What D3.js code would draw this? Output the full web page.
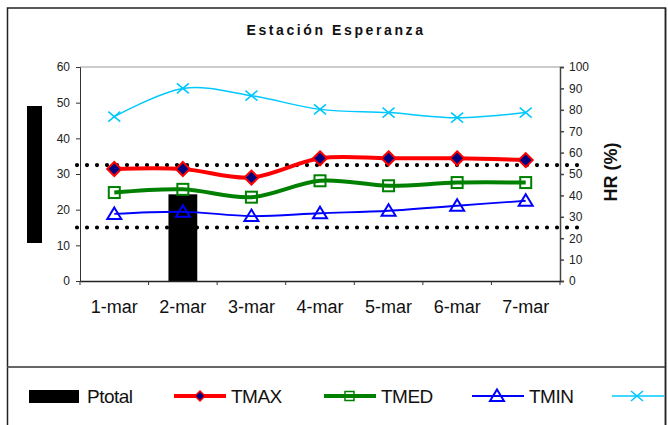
<!DOCTYPE html>
<html><head><meta charset="utf-8">
<script src="https://cdn.jsdelivr.net/npm/d3@7"></script>
<style>
html,body{margin:0;padding:0;background:#fff;}
svg{display:block;font-family:"Liberation Sans",Arial,sans-serif;}
</style></head>
<body>
<svg id="chart" width="668" height="425"></svg>
<script>
const categories = ["1-mar","2-mar","3-mar","4-mar","5-mar","6-mar","7-mar"];
const ptotal = [0, 24.3, 0, 0, 0, 0, 0];
const tmax = [31.4, 31.4, 29.0, 34.4, 34.4, 34.4, 33.9];
const tmed = [24.8, 25.7, 23.5, 28.1, 26.7, 27.6, 27.6];
const tmin = [18.8, 19.4, 18.2, 19.0, 19.7, 21.1, 22.5];
const hr = [76.8, 90.0, 86.6, 80.2, 78.7, 76.3, 78.7];
const leftTicks = [0, 10, 20, 30, 40, 50, 60];
const rightTicks = [0, 10, 20, 30, 40, 50, 60, 70, 80, 90, 100];
const refLines = [32.5, 15];
const title = "Estación Esperanza";
const rightTitle = "HR (%)";
const legendNames = ["Ptotal", "TMAX", "TMED", "TMIN", "HR"];

const svg = d3.select("#chart");
const L = 80, R = 560, T = 67, B = 281;

// frame
svg.append("rect").attr("x", 7.5).attr("y", 8).attr("width", 658).attr("height", 440)
  .attr("fill", "#fff").attr("stroke", "#222").attr("stroke-width", 1.5);
svg.append("line").attr("x1", 7.5).attr("x2", 665.5).attr("y1", 367).attr("y2", 367)
  .attr("stroke", "#666").attr("stroke-width", 2);

// title
svg.append("text").attr("x", 336).attr("y", 35).attr("text-anchor", "middle")
  .attr("font-size", 14).attr("font-weight", "bold").attr("letter-spacing", 2.6)
  .attr("fill", "#111").text(title);

const x = d3.scaleBand().domain(categories).range([L, R]);
const yL = d3.scaleLinear().domain([0, 60]).range([B, T]);
const yR = d3.scaleLinear().domain([0, 100]).range([B, T]);

// plot area border top
svg.append("line").attr("x1", L).attr("x2", R).attr("y1", T).attr("y2", T)
  .attr("stroke", "#999").attr("stroke-width", 1.2);

// bar
svg.append("g").selectAll("rect").data(ptotal).join("rect")
  .attr("x", (d, i) => x(categories[i]) + x.bandwidth() * 0.29)
  .attr("width", x.bandwidth() * 0.42)
  .attr("y", d => yL(d)).attr("height", d => B - yL(d))
  .attr("fill", "#000");

// left axis
const gl = svg.append("g").attr("transform", `translate(${L},0)`)
  .call(d3.axisLeft(yL).tickValues(leftTicks).tickSize(4).tickPadding(6));
gl.selectAll("text").attr("font-size", 12).attr("fill", "#222").attr("font-family", "Liberation Sans, Arial");
gl.selectAll("line,path").attr("stroke", "#333");

// right axis
const gr = svg.append("g").attr("transform", `translate(${R},0)`)
  .call(d3.axisRight(yR).tickValues(rightTicks).tickSize(4).tickPadding(5));
gr.selectAll("text").attr("font-size", 12).attr("fill", "#222").attr("font-family", "Liberation Sans, Arial");
gr.selectAll("line,path").attr("stroke", "#444").attr("stroke-width", 1.5);

// x axis
const gx = svg.append("g").attr("transform", `translate(0,${B})`)
  .call(d3.axisBottom(x).tickSize(0).tickPadding(0));
gx.select(".domain").attr("stroke", "#222").attr("stroke-width", 1.3);
gx.selectAll("text").attr("font-size", 18).attr("fill", "#111").attr("dy", 0).attr("y", 32)
  .attr("font-family", "Liberation Sans, Arial");
svg.append("g").selectAll("line").data(categories.concat(["end"])).join("line")
  .attr("x1", (d, i) => L + i * x.bandwidth()).attr("x2", (d, i) => L + i * x.bandwidth())
  .attr("y1", B).attr("y2", B + 4).attr("stroke", "#333");

// left black box (axis title area)
svg.append("rect").attr("x", 27).attr("y", 106).attr("width", 15).attr("height", 137).attr("fill", "#000");

// right axis title
svg.append("text").attr("transform", `translate(617,${(T + B) / 2 - 2}) rotate(-90)`)
  .attr("text-anchor", "middle").attr("font-size", 18).attr("font-weight", "bold")
  .attr("fill", "#111").text(rightTitle);

// reference dotted lines
svg.append("g").selectAll("line").data(refLines).join("line")
  .attr("x1", L - 3).attr("x2", R + 25)
  .attr("y1", d => yL(d)).attr("y2", d => yL(d))
  .attr("stroke", "#000").attr("stroke-width", 4.2).attr("stroke-linecap", "round")
  .attr("stroke-dasharray", "0 10");

const cx = i => x(categories[i]) + x.bandwidth() / 2;
const curve = d3.curveCardinal.tension(0);

function marker(g, type, px, py, col) {
  if (type === "diamond") {
    g.append("path").attr("d", `M${px},${py - 7}L${px + 7},${py}L${px},${py + 7}L${px - 7},${py}Z`)
      .attr("fill", "#000080").attr("stroke", col).attr("stroke-width", 2);
  } else if (type === "square") {
    g.append("rect").attr("x", px - 5.5).attr("y", py - 5.5).attr("width", 11).attr("height", 11)
      .attr("fill", "none").attr("stroke", col).attr("stroke-width", 2);
  } else if (type === "triangle") {
    g.append("path").attr("d", `M${px},${py - 6.5}L${px + 7},${py + 5}L${px - 7},${py + 5}Z`)
      .attr("fill", "none").attr("stroke", col).attr("stroke-width", 2);
  } else if (type === "cross") {
    g.append("path").attr("d", `M${px - 6},${py - 5}L${px + 6},${py + 5}M${px - 6},${py + 5}L${px + 6},${py - 5}`)
      .attr("fill", "none").attr("stroke", col).attr("stroke-width", 1.6);
  }
}

const series = [
  {vals: hr, scale: yR, col: "#00c8ff", w: 1.5, m: "cross"},
  {vals: tmin, scale: yL, col: "#0000ff", w: 1.8, m: "triangle"},
  {vals: tmed, scale: yL, col: "#008000", w: 4, m: "square"},
  {vals: tmax, scale: yL, col: "#ff0000", w: 4, m: "diamond"}
];
series.forEach(s => {
  const line = d3.line().x((d, i) => cx(i)).y(d => s.scale(d)).curve(curve);
  svg.append("path").datum(s.vals).attr("d", line).attr("fill", "none")
    .attr("stroke", s.col).attr("stroke-width", s.w);
  const g = svg.append("g");
  s.vals.forEach((v, i) => marker(g, s.m, cx(i), s.scale(v), s.col));
});

// legend
const ly = 396;
const lg = svg.append("g");
lg.append("rect").attr("x", 29).attr("y", 390).attr("width", 50).attr("height", 13).attr("fill", "#000");
lg.append("text").attr("x", 87).attr("y", ly + 7).attr("font-size", 19).attr("letter-spacing", -0.5)
  .attr("fill", "#111").text(legendNames[0]);
const legItems = [
  {x0: 174, col: "#ff0000", w: 4, m: "diamond", name: legendNames[1]},
  {x0: 324, col: "#008000", w: 4, m: "square", name: legendNames[2]},
  {x0: 472, col: "#0000ff", w: 1.8, m: "triangle", name: legendNames[3]},
  {x0: 612, col: "#00c8ff", w: 1.5, m: "cross", name: null}
];
legItems.forEach(it => {
  lg.append("line").attr("x1", it.x0).attr("x2", it.x0 + 52).attr("y1", ly).attr("y2", ly)
    .attr("stroke", it.col).attr("stroke-width", it.w);
  const g = lg.append("g");
  if (it.m === "diamond") {
    g.append("path").attr("d", `M${it.x0 + 26},${ly - 5}L${it.x0 + 31},${ly}L${it.x0 + 26},${ly + 5}L${it.x0 + 21},${ly}Z`)
      .attr("fill", "#000080").attr("stroke", it.col).attr("stroke-width", 1.5);
  } else if (it.m === "square") {
    g.append("rect").attr("x", it.x0 + 21).attr("y", ly - 4.5).attr("width", 9).attr("height", 9)
      .attr("fill", "none").attr("stroke", it.col).attr("stroke-width", 1.5);
  } else {
    marker(g, it.m, it.x0 + 25, ly, it.col);
  }
  if (it.name) lg.append("text").attr("x", it.x0 + 57).attr("y", ly + 7).attr("font-size", 19)
    .attr("letter-spacing", -0.5).attr("fill", "#111").text(it.name);
});
// re-draw right frame edge over legend
svg.append("line").attr("x1", 665.5).attr("x2", 665.5).attr("y1", 8).attr("y2", 425)
  .attr("stroke", "#222").attr("stroke-width", 1.5);
</script>
</body></html>
